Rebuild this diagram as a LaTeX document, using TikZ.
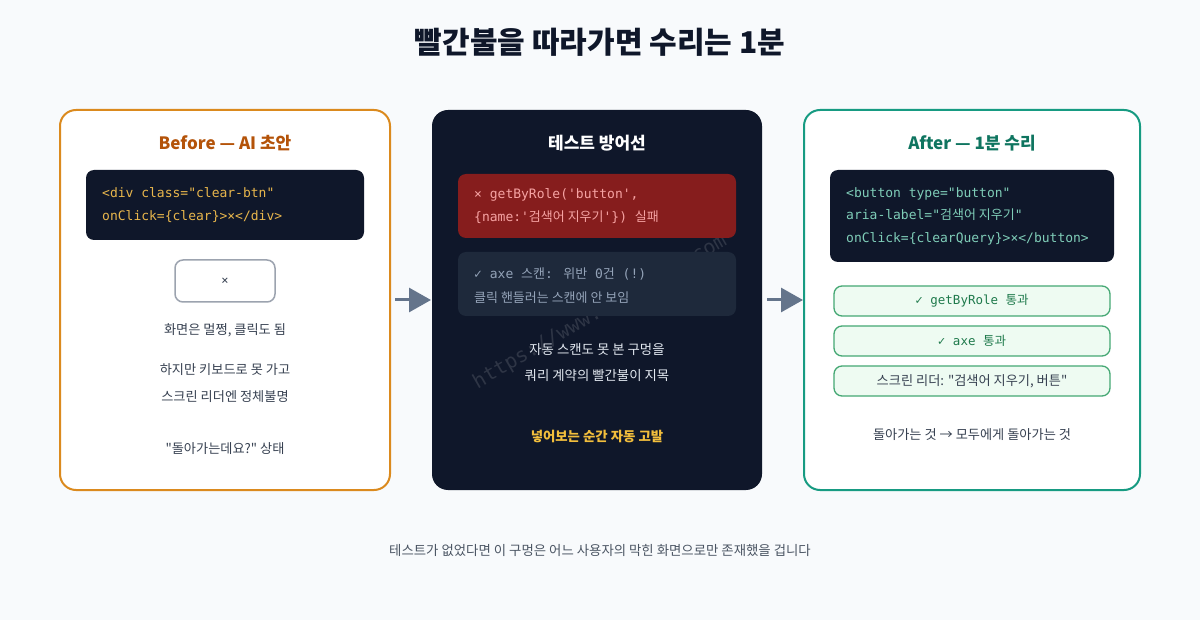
\documentclass[tikz,border=0pt]{standalone}
\usepackage{fontspec}
\setmainfont{Noto Sans CJK KR}[Ligatures=TeXOff]
\newfontfamily\kr{Noto Sans CJK KR}[Ligatures=TeXOff]
\newfontfamily\mono{DejaVu Sans Mono}[Ligatures=TeXOff]
\usetikzlibrary{arrows.meta}
\definecolor{bg}{HTML}{F8FAFC}
\definecolor{titleC}{HTML}{0F172A}
\definecolor{orangeB}{HTML}{DB8A1E}
\definecolor{orangeT}{HTML}{B45309}
\definecolor{navy}{HTML}{0F172A}
\definecolor{codeY}{HTML}{E8B64C}
\definecolor{codeT}{HTML}{7FCDB8}
\definecolor{redbox}{HTML}{861D1D}
\definecolor{redtxt}{HTML}{F6A3A3}
\definecolor{graybox}{HTML}{1E293B}
\definecolor{graytxt}{HTML}{94A3B8}
\definecolor{midtxt}{HTML}{E2E8F0}
\definecolor{gold}{HTML}{F2BE3C}
\definecolor{tealB}{HTML}{179B82}
\definecolor{tealT}{HTML}{0F7560}
\definecolor{pillF}{HTML}{EEFBF2}
\definecolor{pillB}{HTML}{45A874}
\definecolor{pillT}{HTML}{1F7A4C}
\definecolor{bodyT}{HTML}{374151}
\definecolor{arrowC}{HTML}{64748B}
\definecolor{btnB}{HTML}{9CA3AF}
\definecolor{footT}{HTML}{4B5563}
\begin{document}
\begin{tikzpicture}[x=1pt,y=-1pt,
  panel/.style={line width=2pt, rounded corners=16pt, minimum height=380pt, inner sep=0pt},
  codebox/.style={fill=navy, rounded corners=8pt, inner sep=0pt},
  codetxt/.style={anchor=west, align=left, inner sep=0pt, font=\mono\fontsize{13}{23.5}\selectfont},
  head/.style={font=\bfseries\fontsize{17}{19}\selectfont, inner sep=0pt},
  body/.style={font=\fontsize{13.2}{15}\selectfont, text=bodyT, inner sep=0pt},
  midbody/.style={font=\fontsize{13.4}{15}\selectfont, text=midtxt, inner sep=0pt},
  pill/.style={draw=pillB, line width=1.3pt, fill=pillF, rounded corners=8pt, minimum width=276pt, minimum height=30pt, inner sep=0pt},
  flow/.style={draw=arrowC, line width=3pt, -{Triangle[length=22pt,width=24pt]}, shorten <=4pt}
]
\fill[bg] (0,0) rectangle (1200,620);
\useasboundingbox (0,0) rectangle (1200,620);

\node[font=\bfseries\fontsize{30}{34}\selectfont, text=titleC, inner sep=0pt] (title) at (600,42) {빨간불을 따라가면 수리는 1분};

% panels
\node[panel, draw=orangeB, fill=white, minimum width=330pt] (before) at (225,300) {};
\node[panel, fill=navy, minimum width=330pt] (tests) at (597,300) {};
\node[panel, draw=tealB, fill=white, minimum width=336pt] (after) at (972,300) {};

% watermark
\node[rotate=30, text=white, opacity=0.13, inner sep=0pt, font=\mono\fontsize{20}{20}\selectfont] (wm) at (600,312) {https://www.codeslog.com};

% before
\node[head, text=orangeT] (beforeH) at (225,143) {Before — AI 초안};
\node[codebox, minimum width=278pt, minimum height=70pt] (beforeCode) at (225,205) {};
\node[codetxt, text=codeY] (beforeCodeT) at (102,205) {<div class="clear-btn"\\onClick=\{clear\}>×</div>};
\node[draw=btnB, line width=1.5pt, fill=white, rounded corners=8pt, minimum width=100pt, minimum height=42pt, inner sep=0pt, text=bodyT, font=\mono\fontsize{12}{14}\selectfont] (btn) at (225,281) {×};
\node[body] (b1) at (225,330) {화면은 멀쩡, 클릭도 됨};
\node[body] (b2) at (225,370) {하지만 키보드로 못 가고};
\node[body] (b3) at (225,397) {스크린 리더엔 정체불명};
\node[body] (b4) at (225,449) {"돌아가는데요?" 상태};

% tests
\node[head, text=white] (testsH) at (597,143) {테스트 방어선};
\node[codebox, fill=redbox, minimum width=278pt, minimum height=64pt] (fail) at (597,206) {};
\node[codetxt, text=redtxt] (failT) at (474,206) {× getByRole('button',\\\{name:'{\kr 검색어 지우기}'\}) {\kr 실패}};
\node[codebox, fill=graybox, minimum width=278pt, minimum height=64pt] (scan) at (597,284) {};
\node[codetxt, text=graytxt] (scanT) at (474,285.5) {✓ axe {\kr 스캔}: {\kr 위반} 0{\kr 건} (!)\\{\kr 클릭 핸들러는 스캔에 안 보임}};
\node[midbody] (m1) at (597,349) {자동 스캔도 못 본 구멍을};
\node[midbody] (m2) at (597,375) {쿼리 계약의 빨간불이 지목};
\node[font=\bfseries\fontsize{13.4}{15}\selectfont, text=gold, inner sep=0pt] (m3) at (597,436) {넣어보는 순간 자동 고발};

% after
\node[head, text=tealT] (afterH) at (972,143) {After — 1분 수리};
\node[codebox, minimum width=284pt, minimum height=92pt] (afterCode) at (972,216) {};
\node[codetxt, text=codeT, font=\mono\fontsize{13}{22.5}\selectfont] (afterCodeT) at (846,216) {<button type="button"\\aria-label="{\kr 검색어 지우기}"\\onClick=\{clearQuery\}>×</button>};
\node[pill, text=pillT, font=\mono\fontsize{12.5}{15}\selectfont] (p1) at (972,301) {✓ getByRole {\kr 통과}};
\node[pill, text=pillT, font=\mono\fontsize{12.5}{15}\selectfont] (p2) at (972,341) {✓ axe {\kr 통과}};
\node[pill, text=bodyT, font=\fontsize{13.2}{15}\selectfont] (p3) at (972,381) {스크린 리더: "검색어 지우기, 버튼"};
\node[body] (a1) at (972,435) {돌아가는 것 → 모두에게 돌아가는 것};

% arrows
\draw[flow] (before) -- (tests);
\draw[flow] (tests) -- (after);

% footer
\node[font=\fontsize{13.4}{15}\selectfont, text=footT, inner sep=0pt] (foot) at (600,550) {테스트가 없었다면 이 구멍은 어느 사용자의 막힌 화면으로만 존재했을 겁니다};
\end{tikzpicture}
\end{document}
